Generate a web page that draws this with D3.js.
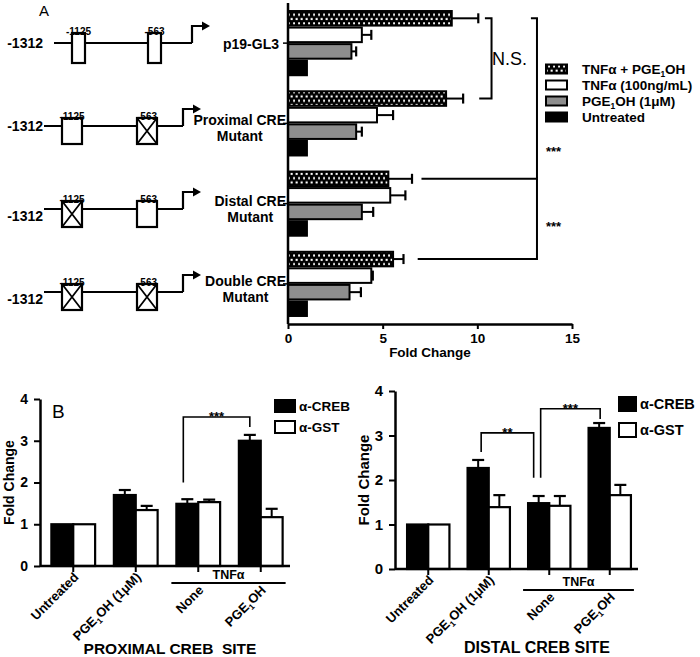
<!DOCTYPE html>
<html><head><meta charset="utf-8">
<script src="https://cdn.jsdelivr.net/npm/d3@7"></script>
<style>
body{margin:0;background:#fff}
svg{display:block}
text{font-family:"Liberation Sans",Arial,Helvetica,sans-serif;fill:#000}
</style>
</head><body>
<svg id="c" width="700" height="657"></svg>
<script>
// ---------------- DATA ----------------
// Panel A
const constructs = ["p19-GL3", "Proximal CRE Mutant", "Distal CRE Mutant", "Double CRE Mutant"];
const constructLines = [["p19-GL3"], ["Proximal CRE", "Mutant"], ["Distal CRE", "Mutant"], ["Double CRE", "Mutant"]];
const distalMutated = [false, false, true, true];    // -1125 site
const proximalMutated = [false, true, false, true];  // -563 site
const siteLabels = ["-1125", "-563"];
const startLabel = "-1312";
const seriesA = ["TNFα + PGE₁OH", "TNFα (100ng/mL)", "PGE₁OH (1μM)", "Untreated"];
const tnfPge = [8.65, 8.35, 5.3, 5.55];
const tnfPgeErr = [1.4, 0.9, 1.25, 0.55];
const tnfOnly = [3.9, 4.7, 5.4, 4.4];
const tnfOnlyErr = [0.5, 0.85, 0.8, 0.08];
const pgeOnly = [3.35, 3.6, 3.9, 3.25];
const pgeOnlyErr = [0.25, 0.3, 0.6, 0.6];
const untreatedA = [1, 1, 1, 1];
const untreatedAErr = [0, 0, 0, 0];
const ticksA = [0, 5, 10, 15];

// Panel B
const conditions = ["Untreated", "PGE₁OH (1μM)", "None", "PGE₁OH"];
const seriesB = ["α-CREB", "α-GST"];
const proxCREB = [1, 1.70, 1.49, 3.00];
const proxCREBErr = [0, 0.12, 0.11, 0.14];
const proxGST = [1, 1.34, 1.53, 1.17];
const proxGSTErr = [0, 0.10, 0.06, 0.20];
const distCREB = [1, 2.27, 1.48, 3.17];
const distCREBErr = [0, 0.18, 0.16, 0.11];
const distGST = [1, 1.39, 1.42, 1.66];
const distGSTErr = [0, 0.27, 0.22, 0.23];
const ticksB = [0, 1, 2, 3, 4];

// ---------------- HELPERS ----------------
const svg = d3.select("#c");
const FONT = '"Liberation Sans",Arial,Helvetica,sans-serif';

function subText(sel, str, size) {
  sel.text(null);
  const parts = str.split("₁");
  parts.forEach((p, k) => {
    if (k > 0) sel.append("tspan").attr("font-size", size * 0.62).attr("dy", size * 0.25).text("1");
    const t = sel.append("tspan").text(p);
    if (k > 0) t.attr("dy", -size * 0.25);
  });
}

const defs = svg.append("defs");
const pat = defs.append("pattern").attr("id", "hatch").attr("patternUnits", "userSpaceOnUse")
  .attr("width", 5).attr("height", 8.6);
pat.append("rect").attr("width", 5).attr("height", 8.6).attr("fill", "#000");
pat.append("rect").attr("x", 0.6).attr("y", 0.8).attr("width", 2.1).attr("height", 2.1).attr("fill", "#fff");
pat.append("rect").attr("x", 3.1).attr("y", 5.1).attr("width", 2.1).attr("height", 2.1).attr("fill", "#fff");

// ---------------- PANEL A ----------------
const gA = svg.append("g");
const xA = d3.scaleLinear().domain([0, 15]).range([288, 572]);
const yA = d3.scaleBand().domain(constructs).range([3, 324]).paddingInner(0.2).paddingOuter(0.1);
const ySub = d3.scaleBand().domain(seriesA).range([0, yA.bandwidth()]).paddingInner(0.12);
const fillsA = ["url(#hatch)", "#fff", "#8e8e8e", "#000"];
const valsA = [tnfPge, tnfOnly, pgeOnly, untreatedA];
const errsA = [tnfPgeErr, tnfOnlyErr, pgeOnlyErr, untreatedAErr];

seriesA.forEach((s, j) => {
  constructs.forEach((c, i) => {
    const y0 = yA(c) + ySub(s), h = ySub.bandwidth(), v = valsA[j][i], e = errsA[j][i];
    const cy = y0 + h / 2;
    if (e > 0) {
      gA.append("line").attr("x1", xA(v)).attr("x2", xA(v + e)).attr("y1", cy).attr("y2", cy)
        .attr("stroke", "#000").attr("stroke-width", 2);
      gA.append("line").attr("x1", xA(v + e)).attr("x2", xA(v + e)).attr("y1", cy - 5).attr("y2", cy + 5)
        .attr("stroke", "#000").attr("stroke-width", 2.2);
    }
    gA.append("rect").attr("x", xA(0)).attr("y", y0).attr("width", xA(v) - xA(0)).attr("height", h)
      .attr("fill", fillsA[j]).attr("stroke", "#000").attr("stroke-width", 2);
  });
});

// y axis line + category ticks
gA.append("line").attr("x1", xA(0)).attr("x2", xA(0)).attr("y1", 3).attr("y2", 324)
  .attr("stroke", "#000").attr("stroke-width", 2.5);
constructs.forEach(c => {
  const cy = yA(c) + yA.bandwidth() / 2;
  gA.append("line").attr("x1", xA(0) - 5).attr("x2", xA(0)).attr("y1", cy).attr("y2", cy)
    .attr("stroke", "#000").attr("stroke-width", 1.5);
});

// x axis
const axA = gA.append("g").attr("transform", "translate(0,324)")
  .call(d3.axisBottom(xA).tickValues(ticksA).tickSize(5).tickSizeOuter(0).tickPadding(4));
axA.select(".domain").attr("stroke-width", 2.5);
axA.selectAll(".tick line").attr("stroke-width", 2);
axA.selectAll(".tick text").attr("font-family", FONT).attr("font-size", 13.5).attr("font-weight", "bold");
gA.append("text").attr("x", (xA(0) + xA(15)) / 2).attr("y", 357).attr("text-anchor", "middle")
  .attr("font-size", 13.5).attr("font-weight", "bold").text("Fold Change");

// category labels
constructLines.forEach((lines, i) => {
  const cy = yA(constructs[i]) + yA.bandwidth() / 2;
  if (lines.length === 1) {
    gA.append("text").attr("x", 279).attr("y", cy + 6).attr("text-anchor", "end")
      .attr("font-size", 14).attr("font-weight", "bold").text(lines[0]);
  } else {
    const t1 = gA.append("text").attr("x", 286).attr("y", cy + 2).attr("text-anchor", "end")
      .attr("font-size", 14).attr("font-weight", "bold").text(lines[0]);
    const w = t1.node().getComputedTextLength();
    gA.append("text").attr("x", 286 - w / 2).attr("y", cy + 18).attr("text-anchor", "middle")
      .attr("font-size", 14).attr("font-weight", "bold").text(lines[1]);
  }
});

// panel letter
svg.append("text").attr("x", 39).attr("y", 16).attr("font-size", 15).text("A");

// schematic constructs
const yD = d3.scalePoint().domain(constructs).range([43, 292]);
constructs.forEach((c, i) => {
  const cy = yD(c);
  const first = i === 0;
  const lx0 = first ? 54 : 44, tss = first ? 192 : 183;
  const boxX = first ? [72, 148] : [62, 137];
  const boxW = first ? 13 : 20, boxTop = first ? cy - 10 : cy - 8, boxH = first ? 30 : 26;
  const g = svg.append("g");
  g.append("line").attr("x1", lx0).attr("x2", tss).attr("y1", cy).attr("y2", cy)
    .attr("stroke", "#000").attr("stroke-width", 2.2);
  g.append("path").attr("d", `M${tss},${cy}V${cy - 17}H${tss + 11}`)
    .attr("fill", "none").attr("stroke", "#000").attr("stroke-width", 2.2);
  g.append("path").attr("d", `M${tss + 10},${cy - 21.5}L${tss + 18},${cy - 17}L${tss + 10},${cy - 12.5}Z`)
    .attr("fill", "#000");
  const muts = [distalMutated[i], proximalMutated[i]];
  boxX.forEach((bx, k) => {
    g.append("rect").attr("x", bx).attr("y", boxTop).attr("width", boxW).attr("height", boxH)
      .attr("fill", "#fff").attr("stroke", "#000").attr("stroke-width", 2.2);
    if (muts[k]) {
      g.append("path").attr("d", `M${bx},${boxTop}L${bx + boxW},${boxTop + boxH}M${bx + boxW},${boxTop}L${bx},${boxTop + boxH}`)
        .attr("stroke", "#000").attr("stroke-width", 1.8);
    }
    g.append("text").attr("x", bx + boxW / 2).attr("y", boxTop + 1.5).attr("text-anchor", "middle")
      .attr("font-size", 10).attr("font-weight", "bold").text(siteLabels[k]);
  });
  g.append("text").attr("x", 43).attr("y", i < 2 ? cy + 5 : cy + 12).attr("text-anchor", "end")
    .attr("font-size", 14).attr("font-weight", "bold").text(startLabel);
});

// significance brackets panel A
function hatchY(i) { return yA(constructs[i]) + ySub(seriesA[0]) + ySub.bandwidth() / 2; }
gA.append("path").attr("d", `M${xA(10.4)},${hatchY(0)}H${xA(10.75)}V${hatchY(1)}H${xA(10.1)}`)
  .attr("fill", "none").attr("stroke", "#000").attr("stroke-width", 2);
gA.append("text").attr("x", 492).attr("y", 65).attr("font-size", 18).text("N.S.");
gA.append("path").attr("d", `M${xA(12.83)},${hatchY(0)}H${xA(13.15)}V${hatchY(3)}H${xA(6.85)}M${xA(13.15)},${hatchY(2)}H${xA(7.05)}`)
  .attr("fill", "none").attr("stroke", "#000").attr("stroke-width", 2);
[(hatchY(1) + hatchY(2)) / 2 + 10, (hatchY(2) + hatchY(3)) / 2 + 5].forEach(yy => {
  gA.append("text").attr("x", 546).attr("y", yy + 7).attr("font-size", 13).attr("font-weight", "bold").text("***");
});

// legend A
const yL = d3.scalePoint().domain(seriesA).range([69, 117]);
seriesA.forEach((s, j) => {
  const cy = yL(s);
  svg.append("rect").attr("x", 546).attr("y", cy - 4.5).attr("width", 21).attr("height", 9)
    .attr("fill", fillsA[j]).attr("stroke", "#000").attr("stroke-width", 2);
  const t = svg.append("text").attr("x", 582).attr("y", cy + 4.5).attr("font-size", 13.5).attr("font-weight", "bold");
  subText(t, s, 13.5);
});

// ---------------- PANEL B ----------------
function drawB(o) {
  const g = svg.append("g");
  const x = d3.scaleBand().domain(conditions).range(o.xr).paddingInner(0.3).paddingOuter(0.15);
  const xs = d3.scaleBand().domain(seriesB).range([0, x.bandwidth()]);
  const y = d3.scaleLinear().domain([0, 4]).range(o.yr);
  const y0 = y(0);
  const fills = ["#000", "#fff"];
  seriesB.forEach((s, j) => {
    conditions.forEach((c, i) => {
      const v = o.vals[j][i], e = o.errs[j][i];
      const bx = x(c) + xs(s), bw = xs.bandwidth(), cx = bx + bw / 2;
      if (e > 0) {
        g.append("line").attr("x1", cx).attr("x2", cx).attr("y1", y(v)).attr("y2", y(v + e))
          .attr("stroke", "#000").attr("stroke-width", 2);
        g.append("line").attr("x1", cx - 6).attr("x2", cx + 6).attr("y1", y(v + e)).attr("y2", y(v + e))
          .attr("stroke", "#000").attr("stroke-width", 2.2);
      }
      g.append("rect").attr("x", bx).attr("y", y(v)).attr("width", bw).attr("height", y0 - y(v))
        .attr("fill", fills[j]).attr("stroke", "#000").attr("stroke-width", 2.2);
    });
  });
  // y axis
  const ay = g.append("g").attr("transform", `translate(${o.axisX},0)`)
    .call(d3.axisLeft(y).tickValues(ticksB).tickFormat(d3.format("d")).tickSize(6).tickSizeOuter(0).tickPadding(6));
  ay.select(".domain").attr("stroke-width", 2.5);
  ay.selectAll(".tick line").attr("stroke-width", 2);
  ay.selectAll(".tick text").attr("font-family", FONT).attr("font-size", o.fs).attr("font-weight", "bold");
  // x baseline and ticks
  g.append("line").attr("x1", o.axisX).attr("x2", o.xEnd).attr("y1", y0).attr("y2", y0)
    .attr("stroke", "#000").attr("stroke-width", 2.5);
  conditions.forEach((c, i) => {
    const cx = x(c) + x.bandwidth() / 2;
    g.append("line").attr("x1", cx).attr("x2", cx).attr("y1", y0).attr("y2", y0 + 6)
      .attr("stroke", "#000").attr("stroke-width", 2);
    const ly = i < 2 ? y0 + 12 : y0 + o.tnfDy + 8;
    const t = g.append("text").attr("transform", `translate(${cx + 6},${ly}) rotate(-45)`)
      .attr("text-anchor", "end").attr("font-size", o.lfs).attr("font-weight", "bold");
    subText(t, c, o.lfs);
  });
  // TNFα grouping line
  const lx1 = x(conditions[2]) - 5, lx2 = x(conditions[3]) + x.bandwidth() + 3;
  g.append("line").attr("x1", lx1).attr("x2", lx2).attr("y1", y0 + o.tnfDy).attr("y2", y0 + o.tnfDy)
    .attr("stroke", "#000").attr("stroke-width", 2.2);
  g.append("text").attr("x", (lx1 + lx2) / 2).attr("y", y0 + o.tnfDy - 4).attr("text-anchor", "middle")
    .attr("font-size", 12.5).attr("font-weight", "bold").text("TNFα");
  // y title
  g.append("text").attr("transform", `translate(${o.titleX},${(y(0) + y(4)) / 2}) rotate(-90)`)
    .attr("text-anchor", "middle").attr("dy", "0.35em").attr("font-size", o.fs).attr("font-weight", "bold")
    .text("Fold Change");
  // brackets
  const barC = (i, dx) => x(conditions[i]) + xs(seriesB[0]) + xs.bandwidth() / 2 + dx;
  o.brackets.forEach(b => {
    const xa = barC(b.a, b.dxa), xb = barC(b.b, b.dxb);
    g.append("path").attr("d", `M${xa},${y(b.ya)}V${y(b.top)}H${xb}V${y(b.yb)}`)
      .attr("fill", "none").attr("stroke", "#000").attr("stroke-width", 1.6);
    g.append("text").attr("x", (xa + xb) / 2).attr("y", y(b.top) + 4).attr("text-anchor", "middle")
      .attr("font-size", 13).attr("font-weight", "bold").text(b.label);
  });
  // legend
  seriesB.forEach((s, j) => {
    g.append("rect").attr("x", o.legX).attr("y", o.legY[j]).attr("width", o.legW).attr("height", o.legH)
      .attr("fill", fills[j]).attr("stroke", "#000").attr("stroke-width", 2);
    g.append("text").attr("x", o.legX + o.legW + 4).attr("y", o.legY[j] + o.legH / 2 + 5)
      .attr("font-size", o.fs - 0.5).attr("font-weight", "bold").text(s);
  });
  // title
  g.append("text").attr("x", o.capX).attr("y", o.capY).attr("text-anchor", "middle")
    .attr("font-size", o.capFs).attr("font-weight", "bold").attr("xml:space", "preserve").text(o.caption);
}

drawB({
  xr: [42, 292], axisX: 40, xEnd: 290, yr: [566, 399], fs: 14, lfs: 13, tnfDy: 17, titleX: 9,
  vals: [proxCREB, proxGST], errs: [proxCREBErr, proxGSTErr],
  brackets: [{ a: 2, b: 3, dxa: -4, dxb: 0, ya: 2.0, top: 3.57, yb: 3.33, label: "***" }],
  legX: 275, legY: [400, 421], legW: 20, legH: 12,
  caption: "PROXIMAL CREB  SITE", capX: 170, capY: 654, capFs: 15.5
});
drawB({
  xr: [398, 640], axisX: 395, xEnd: 638, yr: [569, 391], fs: 15, lfs: 13, tnfDy: 21, titleX: 364,
  vals: [distCREB, distGST], errs: [distCREBErr, distGSTErr],
  brackets: [
    { a: 1, b: 2, dxa: 3, dxb: -5, ya: 2.63, top: 3.06, yb: 2.05, label: "**" },
    { a: 2, b: 3, dxa: 2, dxb: 1, ya: 2.05, top: 3.6, yb: 3.37, label: "***" }
  ],
  legX: 619, legY: [397, 423], legW: 17, legH: 14,
  caption: "DISTAL CREB SITE", capX: 537, capY: 653, capFs: 16
});

svg.append("text").attr("x", 52).attr("y", 418).attr("font-size", 19).text("B");
</script>
</body></html>
